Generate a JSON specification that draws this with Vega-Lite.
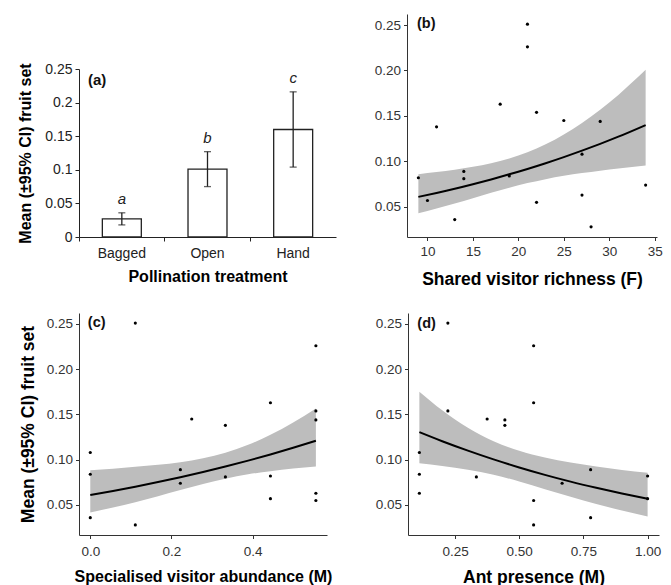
{
  "$schema": "https://vega.github.io/schema/vega-lite/v6.json",
  "padding": {"left": 17, "top": 14, "right": 0, "bottom": 0},
  "background": "white",
  "config": {
    "view": {"stroke": null},
    "font": "Liberation Sans",
    "axis": {
      "grid": false,
      "domainColor": "#333333",
      "domainWidth": 1,
      "tickColor": "#333333",
      "tickSize": 3.5,
      "labelColor": "#333333",
      "labelFontSize": 13.5,
      "labelPadding": 3,
      "titleColor": "#000000",
      "titleFontWeight": "bold",
      "titleFontSize": 17.5
    }
  },
  "datasets": {
    "bars": [
      {"treatment": "Bagged", "mean": 0.027, "lo": 0.018, "hi": 0.036, "letter": "a"},
      {"treatment": "Open", "mean": 0.101, "lo": 0.075, "hi": 0.127, "letter": "b"},
      {"treatment": "Hand", "mean": 0.16, "lo": 0.104, "hi": 0.216, "letter": "c"}
    ],
    "pts": [
      {"fruit": 0.251, "rich": 21, "spec": 0.111, "ant": 0.222},
      {"fruit": 0.226, "rich": 21, "spec": 0.556, "ant": 0.556},
      {"fruit": 0.163, "rich": 18, "spec": 0.444, "ant": 0.556},
      {"fruit": 0.154, "rich": 22, "spec": 0.556, "ant": 0.222},
      {"fruit": 0.145, "rich": 25, "spec": 0.25, "ant": 0.375},
      {"fruit": 0.144, "rich": 29, "spec": 0.556, "ant": 0.444},
      {"fruit": 0.138, "rich": 11, "spec": 0.333, "ant": 0.444},
      {"fruit": 0.108, "rich": 27, "spec": 0.0, "ant": 0.111},
      {"fruit": 0.089, "rich": 14, "spec": 0.222, "ant": 0.778},
      {"fruit": 0.084, "rich": 19, "spec": 0.0, "ant": 0.111},
      {"fruit": 0.082, "rich": 9, "spec": 0.444, "ant": 1.0},
      {"fruit": 0.081, "rich": 14, "spec": 0.333, "ant": 0.333},
      {"fruit": 0.074, "rich": 34, "spec": 0.222, "ant": 0.667},
      {"fruit": 0.063, "rich": 27, "spec": 0.556, "ant": 0.111},
      {"fruit": 0.057, "rich": 10, "spec": 0.444, "ant": 1.0},
      {"fruit": 0.055, "rich": 22, "spec": 0.556, "ant": 0.556},
      {"fruit": 0.036, "rich": 13, "spec": 0.0, "ant": 0.778},
      {"fruit": 0.028, "rich": 28, "spec": 0.111, "ant": 0.556}
    ],
    "fitB": [
      {"rich": 9, "fruit": 0.0610, "lo": 0.0429, "hi": 0.0860},
      {"rich": 11, "fruit": 0.0653, "lo": 0.0481, "hi": 0.0883},
      {"rich": 13, "fruit": 0.0699, "lo": 0.0536, "hi": 0.0908},
      {"rich": 15, "fruit": 0.0749, "lo": 0.0595, "hi": 0.0940},
      {"rich": 17, "fruit": 0.0802, "lo": 0.0654, "hi": 0.0980},
      {"rich": 19, "fruit": 0.0858, "lo": 0.0711, "hi": 0.1031},
      {"rich": 21, "fruit": 0.0917, "lo": 0.0762, "hi": 0.1100},
      {"rich": 23, "fruit": 0.0980, "lo": 0.0805, "hi": 0.1188},
      {"rich": 25, "fruit": 0.1047, "lo": 0.0842, "hi": 0.1296},
      {"rich": 27, "fruit": 0.1118, "lo": 0.0872, "hi": 0.1423},
      {"rich": 29, "fruit": 0.1193, "lo": 0.0898, "hi": 0.1568},
      {"rich": 31, "fruit": 0.1272, "lo": 0.0922, "hi": 0.1731},
      {"rich": 34, "fruit": 0.1400, "lo": 0.0955, "hi": 0.2007}
    ],
    "fitC": [
      {"spec": 0.0, "fruit": 0.0610, "lo": 0.0417, "hi": 0.0883},
      {"spec": 0.056, "fruit": 0.0655, "lo": 0.0473, "hi": 0.0901},
      {"spec": 0.111, "fruit": 0.0702, "lo": 0.0531, "hi": 0.0922},
      {"spec": 0.167, "fruit": 0.0753, "lo": 0.0598, "hi": 0.0944},
      {"spec": 0.222, "fruit": 0.0806, "lo": 0.0666, "hi": 0.0973},
      {"spec": 0.278, "fruit": 0.0864, "lo": 0.0733, "hi": 0.1016},
      {"spec": 0.333, "fruit": 0.0925, "lo": 0.0791, "hi": 0.1077},
      {"spec": 0.389, "fruit": 0.0990, "lo": 0.0839, "hi": 0.1165},
      {"spec": 0.444, "fruit": 0.1058, "lo": 0.0874, "hi": 0.1275},
      {"spec": 0.5, "fruit": 0.1132, "lo": 0.0902, "hi": 0.1411},
      {"spec": 0.556, "fruit": 0.1210, "lo": 0.0926, "hi": 0.1567}
    ],
    "fitD": [
      {"ant": 0.111, "fruit": 0.1305, "lo": 0.0960, "hi": 0.1751},
      {"ant": 0.2, "fruit": 0.1205, "lo": 0.0931, "hi": 0.1546},
      {"ant": 0.3, "fruit": 0.1101, "lo": 0.0889, "hi": 0.1353},
      {"ant": 0.4, "fruit": 0.1004, "lo": 0.0834, "hi": 0.1204},
      {"ant": 0.5, "fruit": 0.0915, "lo": 0.0760, "hi": 0.1099},
      {"ant": 0.6, "fruit": 0.0833, "lo": 0.0675, "hi": 0.1024},
      {"ant": 0.7, "fruit": 0.0758, "lo": 0.0591, "hi": 0.0969},
      {"ant": 0.8, "fruit": 0.0690, "lo": 0.0511, "hi": 0.0926},
      {"ant": 0.9, "fruit": 0.0627, "lo": 0.0438, "hi": 0.0888},
      {"ant": 1.0, "fruit": 0.0569, "lo": 0.0374, "hi": 0.0857}
    ]
  },
  "spacing": 25,
  "vconcat": [
    {
      "spacing": 38,
      "hconcat": [
        {
          "width": 257,
          "height": 223,
          "layer": [
            {
              "data": {"name": "bars"},
              "mark": {"type": "bar", "fill": "white", "stroke": "#222222", "strokeWidth": 1.3, "width": {"band": 0.455}},
              "encoding": {
                "x": {"field": "treatment", "type": "nominal", "sort": ["Bagged", "Open", "Hand"], "title": "Pollination treatment",
                      "scale": {"paddingInner": 0, "paddingOuter": 0},
                      "axis": {"labelAngle": 0, "bandPosition": 0, "labelFontSize": 14, "labelColor": "#222222", "labelPadding": 5, "tickSize": 4, "titleFontSize": 16, "titlePadding": 8, "domainColor": "#222222", "tickColor": "#222222"}},
                "y": {"field": "mean", "type": "quantitative", "title": "Mean (±95% CI) fruit set",
                      "scale": {"domain": [0, 0.25], "range": [223, 55], "nice": false, "zero": false},
                      "axis": {"values": [0, 0.05, 0.1, 0.15, 0.2, 0.25], "format": "~g", "labelFontSize": 14, "labelColor": "#222222", "tickSize": 4, "titleFontSize": 16, "titlePadding": 11, "domainColor": "#222222", "tickColor": "#222222"}}
              }
            },
            {
              "data": {"name": "bars"},
              "mark": {"type": "rule", "color": "#222222", "strokeWidth": 1.3},
              "encoding": {
                "x": {"field": "treatment", "type": "nominal", "sort": ["Bagged", "Open", "Hand"], "title": "Pollination treatment"},
                "y": {"field": "lo", "type": "quantitative", "title": "Mean (±95% CI) fruit set"},
                "y2": {"field": "hi"}
              }
            },
            {
              "data": {"name": "bars"},
              "mark": {"type": "tick", "orient": "horizontal", "size": 7, "thickness": 1.3, "color": "#222222"},
              "encoding": {
                "x": {"field": "treatment", "type": "nominal", "sort": ["Bagged", "Open", "Hand"], "title": "Pollination treatment"},
                "y": {"field": "lo", "type": "quantitative", "title": "Mean (±95% CI) fruit set"}
              }
            },
            {
              "data": {"name": "bars"},
              "mark": {"type": "tick", "orient": "horizontal", "size": 7, "thickness": 1.3, "color": "#222222"},
              "encoding": {
                "x": {"field": "treatment", "type": "nominal", "sort": ["Bagged", "Open", "Hand"], "title": "Pollination treatment"},
                "y": {"field": "hi", "type": "quantitative", "title": "Mean (±95% CI) fruit set"}
              }
            },
            {
              "data": {"name": "bars"},
              "mark": {"type": "text", "fontStyle": "italic", "fontSize": 15, "baseline": "alphabetic", "dy": -9, "color": "#222222"},
              "encoding": {
                "x": {"field": "treatment", "type": "nominal", "sort": ["Bagged", "Open", "Hand"], "title": "Pollination treatment"},
                "y": {"field": "hi", "type": "quantitative", "title": "Mean (±95% CI) fruit set"},
                "text": {"field": "letter"}
              }
            },
            {
              "data": {"values": [{"label": "(a)"}]},
              "mark": {"type": "text", "fontWeight": "bold", "fontSize": 15, "align": "left", "baseline": "middle", "dx": 9, "color": "#111111"},
              "encoding": {
                "x": {"datum": "Bagged", "bandPosition": 0},
                "y": {"datum": 0.234},
                "text": {"field": "label"}
              }
            }
          ]
        },
        {
          "width": 250,
          "height": 223,
          "layer": [
            {
              "data": {"name": "fitB"},
              "mark": {"type": "area", "color": "#bdbdbd", "interpolate": "monotone"},
              "encoding": {
                "x": {"field": "rich", "type": "quantitative", "title": "Shared visitor richness (F)",
                      "scale": {"domain": [7.75, 35.25], "nice": false, "zero": false},
                      "axis": {"values": [10, 15, 20, 25, 30, 35], "labelPadding": 4, "titlePadding": 12}},
                "y": {"field": "lo", "type": "quantitative", "title": null,
                      "scale": {"domain": [0.01685, 0.26215], "nice": false, "zero": false},
                      "axis": {"values": [0.05, 0.1, 0.15, 0.2, 0.25], "format": ".2f"}},
                "y2": {"field": "hi"}
              }
            },
            {
              "data": {"name": "fitB"},
              "mark": {"type": "line", "color": "#000000", "strokeWidth": 2, "interpolate": "monotone"},
              "encoding": {
                "x": {"field": "rich", "type": "quantitative", "title": "Shared visitor richness (F)"},
                "y": {"field": "fruit", "type": "quantitative", "title": null}
              }
            },
            {
              "data": {"name": "pts"},
              "mark": {"type": "circle", "color": "#000000", "size": 10, "opacity": 1},
              "encoding": {
                "x": {"field": "rich", "type": "quantitative", "title": "Shared visitor richness (F)"},
                "y": {"field": "fruit", "type": "quantitative", "title": null}
              }
            },
            {
              "data": {"values": [{"label": "(b)"}]},
              "mark": {"type": "text", "fontWeight": "bold", "fontSize": 14.5, "align": "left", "baseline": "middle", "color": "#111111"},
              "encoding": {
                "x": {"datum": 8.85, "type": "quantitative"},
                "y": {"datum": 0.251, "type": "quantitative"},
                "text": {"field": "label"}
              }
            }
          ]
        }
      ]
    },
    {
      "spacing": 43,
      "hconcat": [
        {
          "width": 248,
          "height": 222,
          "layer": [
            {
              "data": {"name": "fitC"},
              "mark": {"type": "area", "color": "#bdbdbd", "interpolate": "monotone"},
              "encoding": {
                "x": {"field": "spec", "type": "quantitative", "title": "Specialised visitor abundance (M)",
                      "scale": {"domain": [-0.0278, 0.5834], "nice": false, "zero": false},
                      "axis": {"values": [0, 0.2, 0.4], "format": ".1f", "labelPadding": 6, "titlePadding": 10, "titleFontSize": 16}},
                "y": {"field": "lo", "type": "quantitative", "title": "Mean (±95% CI) fruit set",
                      "scale": {"domain": [0.01685, 0.26215], "nice": false, "zero": false},
                      "axis": {"values": [0.05, 0.1, 0.15, 0.2, 0.25], "format": ".2f", "titlePadding": 9}},
                "y2": {"field": "hi"}
              }
            },
            {
              "data": {"name": "fitC"},
              "mark": {"type": "line", "color": "#000000", "strokeWidth": 2, "interpolate": "monotone"},
              "encoding": {
                "x": {"field": "spec", "type": "quantitative", "title": "Specialised visitor abundance (M)"},
                "y": {"field": "fruit", "type": "quantitative", "title": "Mean (±95% CI) fruit set"}
              }
            },
            {
              "data": {"name": "pts"},
              "mark": {"type": "circle", "color": "#000000", "size": 10, "opacity": 1},
              "encoding": {
                "x": {"field": "spec", "type": "quantitative", "title": "Specialised visitor abundance (M)"},
                "y": {"field": "fruit", "type": "quantitative", "title": "Mean (±95% CI) fruit set"}
              }
            },
            {
              "data": {"values": [{"label": "(c)"}]},
              "mark": {"type": "text", "fontWeight": "bold", "fontSize": 14.5, "align": "left", "baseline": "middle", "color": "#111111"},
              "encoding": {
                "x": {"datum": -0.006, "type": "quantitative"},
                "y": {"datum": 0.251, "type": "quantitative"},
                "text": {"field": "label"}
              }
            }
          ]
        },
        {
          "width": 251,
          "height": 222,
          "layer": [
            {
              "data": {"name": "fitD"},
              "mark": {"type": "area", "color": "#bdbdbd", "interpolate": "monotone"},
              "encoding": {
                "x": {"field": "ant", "type": "quantitative", "title": "Ant presence (M)",
                      "scale": {"domain": [0.0667, 1.0444], "nice": false, "zero": false},
                      "axis": {"values": [0.25, 0.5, 0.75, 1.0], "format": ".2f", "labelPadding": 6, "titlePadding": 10}},
                "y": {"field": "lo", "type": "quantitative", "title": null,
                      "scale": {"domain": [0.01685, 0.26215], "nice": false, "zero": false},
                      "axis": {"values": [0.05, 0.1, 0.15, 0.2, 0.25], "format": ".2f"}},
                "y2": {"field": "hi"}
              }
            },
            {
              "data": {"name": "fitD"},
              "mark": {"type": "line", "color": "#000000", "strokeWidth": 2, "interpolate": "monotone"},
              "encoding": {
                "x": {"field": "ant", "type": "quantitative", "title": "Ant presence (M)"},
                "y": {"field": "fruit", "type": "quantitative", "title": null}
              }
            },
            {
              "data": {"name": "pts"},
              "mark": {"type": "circle", "color": "#000000", "size": 10, "opacity": 1},
              "encoding": {
                "x": {"field": "ant", "type": "quantitative", "title": "Ant presence (M)"},
                "y": {"field": "fruit", "type": "quantitative", "title": null}
              }
            },
            {
              "data": {"values": [{"label": "(d)"}]},
              "mark": {"type": "text", "fontWeight": "bold", "fontSize": 14.5, "align": "left", "baseline": "middle", "color": "#111111"},
              "encoding": {
                "x": {"datum": 0.103, "type": "quantitative"},
                "y": {"datum": 0.25, "type": "quantitative"},
                "text": {"field": "label"}
              }
            }
          ]
        }
      ]
    }
  ]
}
